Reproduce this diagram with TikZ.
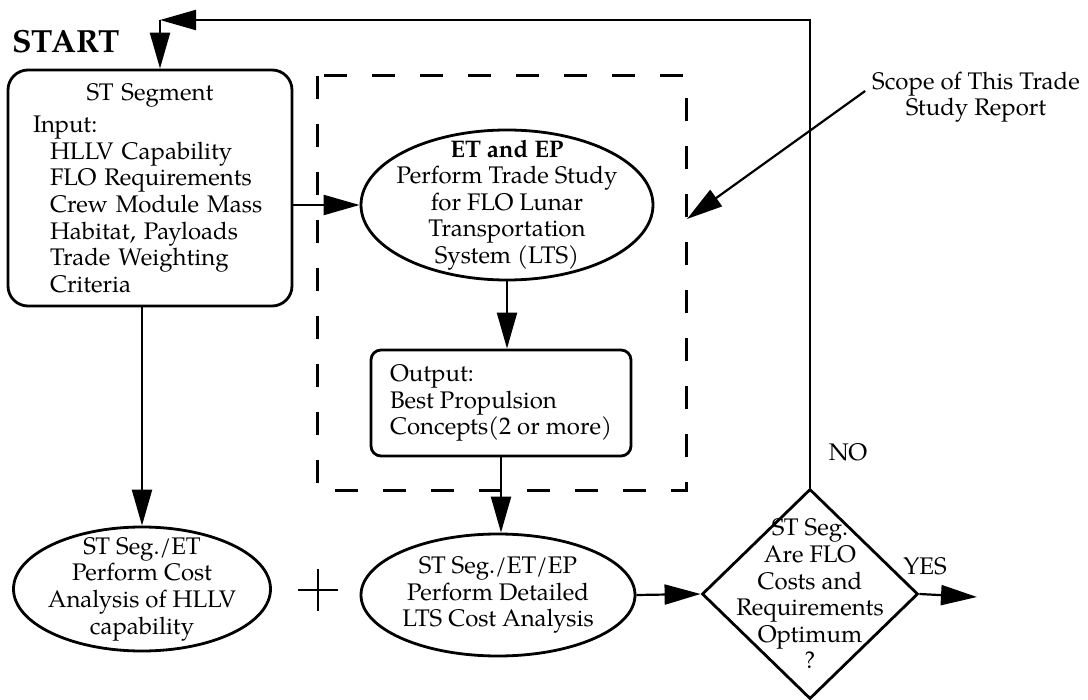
\documentclass[tikz,border=0pt]{standalone}
\usepackage{fontspec}
\setmainfont{TeX Gyre Pagella}
\usetikzlibrary{shapes.geometric, arrows.meta, positioning}

\begin{document}
\begin{tikzpicture}[x=0.5pt, y=-0.5pt,
    txt/.style={font=\fontsize{12}{13.3}\selectfont},
    inbox/.style={txt, draw, line width=1.4pt, rounded corners=10pt},
    oval/.style={txt, draw, line width=1.4pt, ellipse, inner sep=-20pt, align=center},
    decision/.style={txt, draw, line width=1.4pt, diamond, inner sep=-20pt, align=center},
    arr/.style={line width=1.1pt, -{Triangle[length=18pt, width=10pt]}},
    scopeline/.style={line width=1.5pt, dash pattern=on 11.5pt off 12.5pt}]

    \useasboundingbox (0,0) rectangle (1088,700);

    % Start
    \node[font=\fontsize{16}{16}\selectfont\bfseries] (start) at (66,42) {START};

    % ST segment inputs
    \node[inbox, text width=117pt, inner xsep=12.5pt, inner ysep=0pt,
          minimum width=142pt, minimum height=118pt, align=left] (stseg) at (150,188)
        {{\centering ST Segment\par}\vspace{3pt}
         Input:\\
         \hspace*{8.5pt}HLLV Capability\\
         \hspace*{8.5pt}FLO Requirements\\
         \hspace*{8.5pt}Crew Module Mass\\
         \hspace*{8.5pt}Habitat, Payloads\\
         \hspace*{8.5pt}Trade Weighting\\
         \hspace*{8.5pt}Criteria};

    % Scope of the trade study
    \draw[scopeline] (317,76) rectangle (686,490);

    % Trade study
    \node[oval, minimum width=146pt, minimum height=75pt] (etep) at (507,205)
        {\textbf{ET and EP}\\Perform Trade Study\\for FLO Lunar\\Transportation\\System (LTS)};

    % Output
    \node[inbox, rounded corners=5pt, align=left, minimum width=130pt, minimum height=53pt] (output) at (501,403)
        {Output:\\Best Propulsion\\Concepts(2 or more)};

    % Cost analyses
    \node[oval, minimum width=128.5pt, minimum height=62pt] (hllv) at (142,589)
        {ST Seg./ET\\Perform Cost\\Analysis of HLLV\\capability};
    \node[oval, minimum width=137pt, minimum height=61pt] (lts) at (498,595)
        {ST Seg./ET/EP\\Perform Detailed\\LTS Cost Analysis};

    % Plus sign
    \coordinate (plus) at (318,590);
    \draw[line width=1.1pt] (plus) ++(-20,0) -- ++(40,0);
    \draw[line width=1.1pt] (plus) ++(0,-21) -- ++(0,42);

    % Decision
    \node[decision, minimum width=108pt, minimum height=105pt] (dec) at (810,594)
        {ST Seg.\\Are FLO\\Costs and\\Requirements\\Optimum\\?};
    \node[txt] (nolabel) at (848,452) {NO};
    \node[txt] (yeslabel) at (925,566) {YES};

    % Note
    \node[txt, align=center] (scopenote) at (976,97) {Scope of This Trade\\Study Report};
    \coordinate (scopetip) at (687,219);
    \draw[arr] ([yshift=3pt]scopenote.west) -- (scopetip);

    % Connectors
    \draw[arr] (etep.west -| stseg.east) -- (etep.west);
    \draw[arr] (hllv.north |- stseg.south) -- (hllv.north);
    \draw[arr] (etep.south) -- (etep.south |- output.north);
    \draw[arr] (output.south) -- (output.south |- lts.north);
    \draw[arr] (lts.east) -- (dec.west);
    \coordinate (yesend) at (977,597);
    \draw[arr] (dec.east) -- (yesend);

    % Loop back to the start
    \coordinate (loopcorner) at (160,20);
    \draw[arr] (dec.north) |- (loopcorner);
    \draw[arr] (loopcorner) -- (loopcorner |- stseg.north);
\end{tikzpicture}
\end{document}
